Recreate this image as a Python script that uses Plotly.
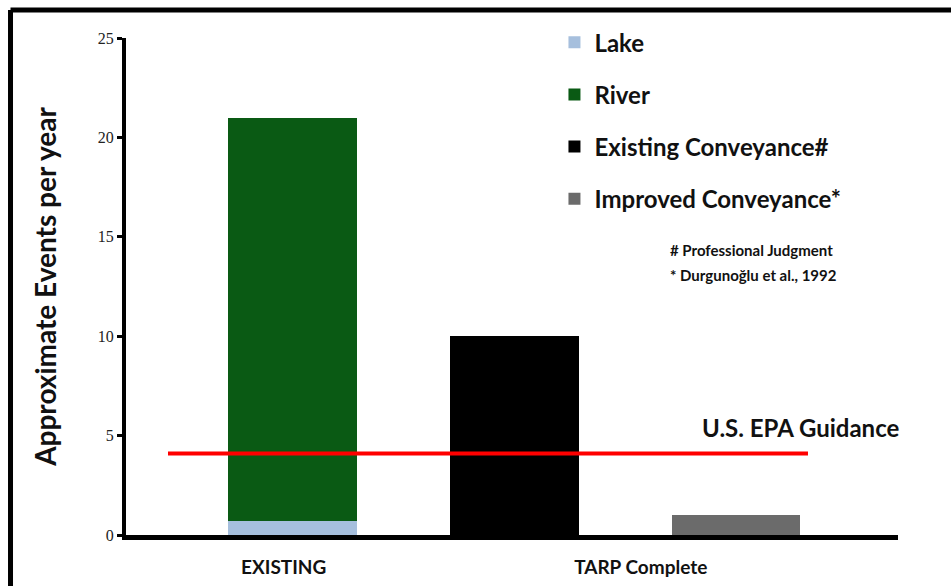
import plotly.graph_objects as go

# ---- data ----
categories = ["EXISTING", "TARP Complete"]
series_names = ["Lake", "River", "Existing Conveyance#", "Improved Conveyance*"]
lake = [0.7]
river = [20.3]
existing_conveyance = [10]
improved_conveyance = [1]
epa_guidance = 4.1
y_ticks = [0, 5, 10, 15, 20, 25]
footnotes = ["# Professional Judgment", "* Durgunoğlu et al., 1992"]

# bar slots (1 = EXISTING, 2-3 = TARP Complete)
slot_existing = [1]
slot_existing_conv = [2]
slot_improved = [3]

colors = ["#A6BFDD", "#0A5A14", "#000000", "#6B6B6B"]
FONT = "Lato"

fig = go.Figure()
fig.add_trace(go.Bar(x=slot_existing, y=lake, name=series_names[0], marker_color=colors[0],
                     width=0.58, legendgroup="a", marker_line_width=0))
fig.add_trace(go.Bar(x=slot_existing, y=river, name=series_names[1], marker_color=colors[1],
                     width=0.58, legendgroup="b", marker_line_width=0))
fig.add_trace(go.Bar(x=slot_existing_conv, y=existing_conveyance, name=series_names[2],
                     marker_color=colors[2], width=0.58, legendgroup="c", marker_line_width=0))
fig.add_trace(go.Bar(x=slot_improved, y=improved_conveyance, name=series_names[3],
                     marker_color=colors[3], width=0.58, legendgroup="d", marker_line_width=0))

# EPA guidance line
fig.add_shape(type="line", xref="paper", yref="y", x0=0.0544, x1=0.8834,
              y0=epa_guidance, y1=epa_guidance, line=dict(color="#FF0000", width=4))
fig.add_annotation(text="U.S. EPA Guidance", xref="paper", yref="paper", x=0.874, y=0.2153,
                   showarrow=False, font=dict(family=FONT, size=24, color="#111", weight=700),
                   xanchor="center", yanchor="middle")

# footnotes
for t, yy in zip(footnotes, [0.5734, 0.5231]):
    fig.add_annotation(text=t, xref="paper", yref="paper", x=0.702, y=yy, showarrow=False,
                       font=dict(family=FONT, size=15, color="#111", weight=700),
                       xanchor="left", yanchor="middle")

# frame (top and left border)
fig.add_shape(type="line", xref="paper", yref="paper", x0=-0.1496, x1=1.1,
              y0=1.0563, y1=1.0563, line=dict(color="black", width=5))
fig.add_shape(type="line", xref="paper", yref="paper", x0=-0.1496, x1=-0.1496,
              y0=1.0563, y1=-0.11, line=dict(color="black", width=5))

fig.update_layout(
    width=951, height=586,
    margin=dict(l=126, r=53, t=38, b=51),
    paper_bgcolor="white", plot_bgcolor="white",
    barmode="stack",
    bargap=0,
    font=dict(family=FONT, color="#111"),
    showlegend=True,
    legend=dict(x=0.555, y=1.036, xanchor="left", yanchor="top",
                traceorder="grouped", tracegroupgap=18,
                font=dict(family=FONT, size=24, color="#111", weight=700),
                bgcolor="rgba(0,0,0,0)", itemwidth=30),
    xaxis=dict(range=[0.249, 3.730], tickvals=[0.96, 2.57], ticktext=categories,
               showgrid=False, zeroline=False, showline=True, linecolor="black",
               linewidth=5, ticks="", ticklabelstandoff=11, automargin=False,
               tickfont=dict(family=FONT, size=19, color="#111", weight=700)),
    yaxis=dict(range=[0, 25], tickvals=y_ticks, showgrid=False, zeroline=False,
               showline=True, linecolor="black", linewidth=4, automargin=False,
               ticks="outside", ticklen=5, tickwidth=3, tickcolor="black",
               tickfont=dict(family="Liberation Serif", size=16, color="#222"),
               title=dict(text="Approximate Events per year", standoff=34,
                          font=dict(family=FONT, size=28, color="#111", weight=700))),
)

fig.write_html("out.html")
